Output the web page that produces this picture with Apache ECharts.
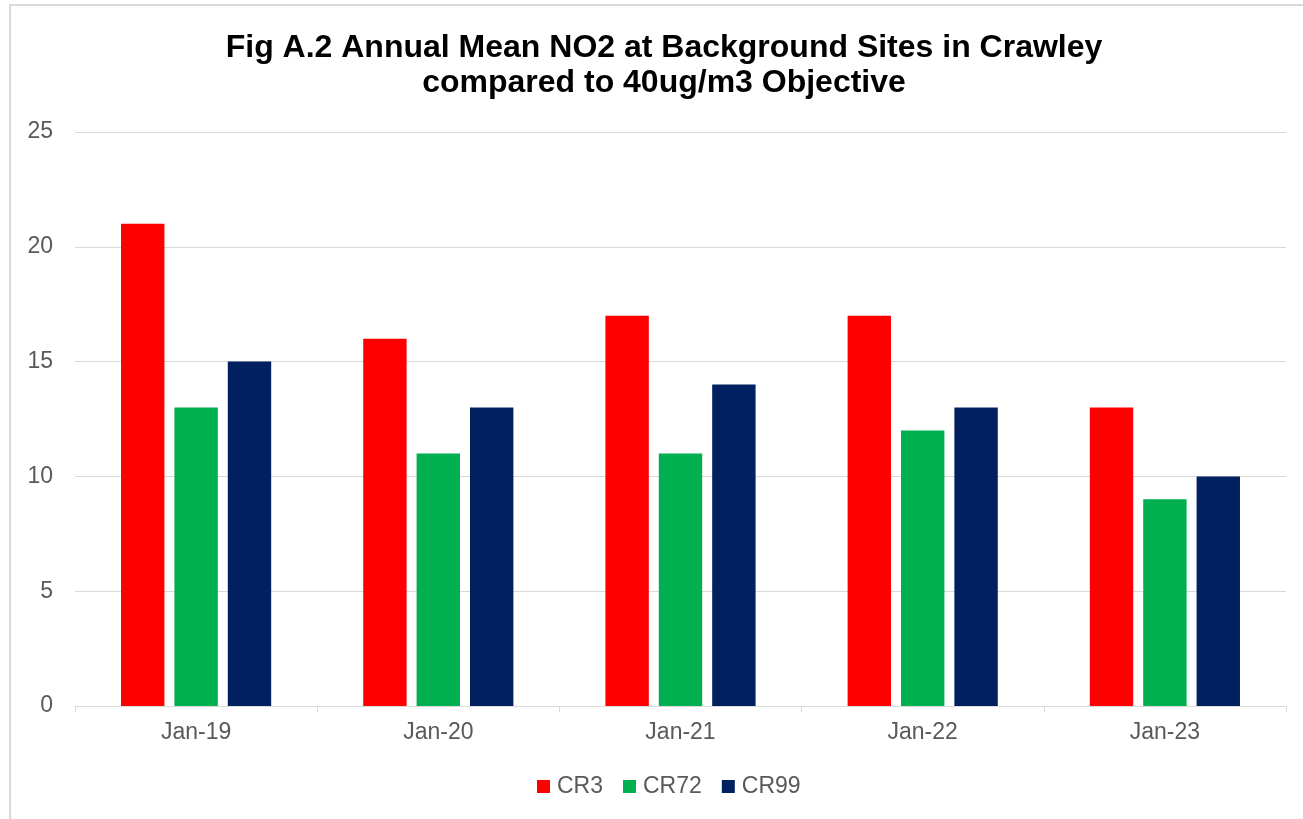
<!DOCTYPE html>
<html>
<head>
<meta charset="utf-8">
<script src="https://cdn.jsdelivr.net/npm/echarts@6/dist/echarts.min.js"></script>
<style>
html,body{margin:0;padding:0;background:#fff;}
#chart{width:1303px;height:819px;}
</style>
</head>
<body>
<div id="chart"></div>
<script>
const categories = ['Jan-19', 'Jan-20', 'Jan-21', 'Jan-22', 'Jan-23'];
const cr3 = [21, 16, 17, 17, 13];
const cr72 = [13, 11, 11, 12, 9];
const cr99 = [15, 13, 14, 13, 10];
const yTicks = [0, 5, 10, 15, 20, 25];

const chart = echarts.init(document.getElementById('chart'), null, {renderer: 'canvas'});
const font = 'Liberation Sans, Arial, sans-serif';
chart.setOption({
  animation: false,
  backgroundColor: '#ffffff',
  textStyle: {fontFamily: font},
  title: {
    text: 'Fig A.2 Annual Mean NO2 at Background Sites in Crawley\ncompared to 40ug/m3 Objective',
    left: 659,
    textAlign: 'center',
    top: 26,
    textStyle: {fontFamily: font, fontSize: 32, fontWeight: 'bold', color: '#000000', lineHeight: 35}
  },
  graphic: [{
    type: 'rect',
    shape: {x: 10, y: 5, width: 2000, height: 2000},
    style: {fill: 'none', stroke: '#d9d9d9', lineWidth: 2},
    silent: true
  }],
  legend: {
    bottom: 16,
    left: 532,
    itemWidth: 13,
    itemHeight: 13,
    itemGap: 20,
    icon: 'rect',
    textStyle: {fontFamily: font, fontSize: 23, color: '#595959', padding: [0, 0, 0, 2]},
    data: ['CR3', 'CR72', 'CR99']
  },
  grid: {left: 75, right: 17, top: 132, bottom: 113, containLabel: false},
  xAxis: {
    type: 'category',
    data: categories,
    axisLine: {show: true, lineStyle: {color: '#d9d9d9', width: 1}},
    axisTick: {show: true, length: 6, lineStyle: {color: '#d9d9d9'}},
    axisLabel: {fontFamily: font, fontSize: 23, color: '#595959', margin: 15}
  },
  yAxis: {
    type: 'value',
    min: 0, max: 25, interval: 5,
    axisLine: {show: false},
    axisTick: {show: false},
    axisLabel: {fontFamily: font, fontSize: 23, color: '#595959', margin: 22,
      formatter: v => yTicks.includes(v) ? String(v) : ''},
    splitLine: {lineStyle: {color: '#d9d9d9', width: 1}}
  },
  series: [
    {name: 'CR3', type: 'bar', data: cr3, itemStyle: {color: '#ff0000'}, barGap: '23%', barCategoryGap: '38%'},
    {name: 'CR72', type: 'bar', data: cr72, itemStyle: {color: '#00b050'}, barGap: '23%', barCategoryGap: '38%'},
    {name: 'CR99', type: 'bar', data: cr99, itemStyle: {color: '#002060'}, barGap: '23%', barCategoryGap: '38%'}
  ]
});
</script>
</body>
</html>
